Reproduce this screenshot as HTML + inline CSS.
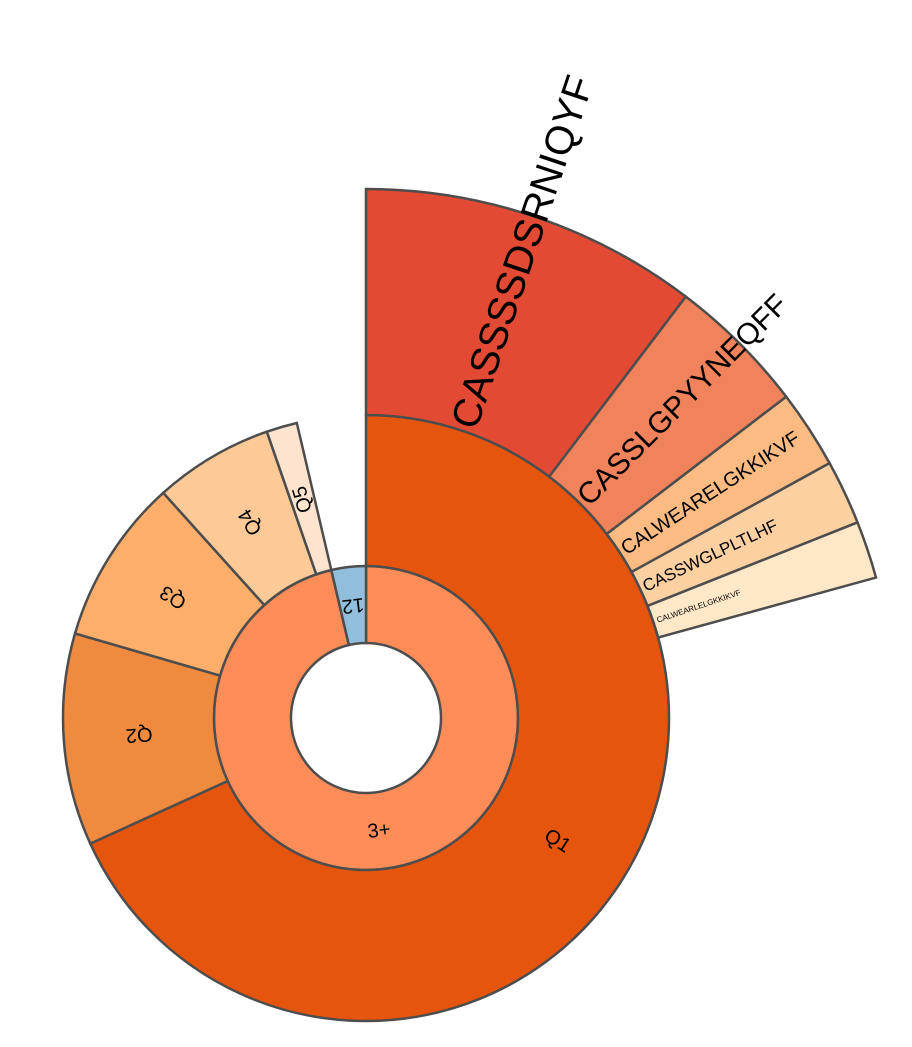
<!DOCTYPE html>
<html><head><meta charset="utf-8"><style>
html,body{margin:0;padding:0;background:#fff;}
svg{display:block;font-family:"Liberation Sans",sans-serif;}
</style></head><body>
<svg id="chart" width="912" height="1047" viewBox="0 0 912 1047"></svg>
<script>
const ring1Names = ["3+", "12"];
const ring1Values = [346.8, 13.2];
const ring2Names = ["Q1", "Q2", "Q3", "Q4", "Q5"];
const ring2Values = [245.5, 40.7, 31.8, 22.9, 5.9];
const ring3Names = ["CASSSSDSRNIQYF", "CASSLGPYYNEQFF", "CALWEARELGKKIKVF", "CASSWGLPLTLHF", "CALWEARLELGKKIKVF"];
const ring3Values = [37.2, 15.4, 8.6, 7.1, 6.3];

const ring1Colors = ["#fc8d59", "#91bfdb"];
const ring2Colors = ["#e6550d", "#f08a3e", "#fdae6b", "#fdc997", "#fee3cf"];
const ring3Colors = ["#e34a33", "#f0825c", "#fdbb84", "#fdd0a2", "#fee8c8"];
const ring3Font = [40, 30, 20, 17, 8];

const svg = document.getElementById('chart');
const NS = 'http://www.w3.org/2000/svg';
const cx = 366, cy = 718;
const radii = [75, 152, 303, 529];
const total = ring1Values.reduce((a, b) => a + b, 0);
const ang = v => v / total * 360;

function pt(r, a) {
  const t = a * Math.PI / 180;
  return [cx + r * Math.sin(t), cy - r * Math.cos(t)];
}
function arcPath(a0, a1, r0, r1) {
  const large = (a1 - a0) > 180 ? 1 : 0;
  const p0 = pt(r1, a0), p1 = pt(r1, a1), p2 = pt(r0, a1), p3 = pt(r0, a0);
  return `M${p0[0]},${p0[1]}A${r1},${r1} 0 ${large} 1 ${p1[0]},${p1[1]}L${p2[0]},${p2[1]}A${r0},${r0} 0 ${large} 0 ${p3[0]},${p3[1]}Z`;
}
function drawRing(names, values, colors, start, r0, r1, ring) {
  let a = start;
  const out = [];
  names.forEach((n, i) => {
    const a1 = a + ang(values[i]);
    const p = document.createElementNS(NS, 'path');
    p.setAttribute('d', arcPath(a, a1, r0, r1));
    p.setAttribute('fill', colors[i]);
    p.setAttribute('stroke', '#4d4d4d');
    p.setAttribute('stroke-width', '2.5');
    
    
    svg.appendChild(p);
    out.push([a, a1]);
    a = a1;
  });
  return out;
}
function label(text, x, y, rot, size, anchor) {
  const t = document.createElementNS(NS, 'text');
  t.setAttribute('x', x); t.setAttribute('y', y);
  t.setAttribute('transform', `rotate(${rot} ${x} ${y})`);
  t.setAttribute('font-size', size);
  t.setAttribute('text-anchor', anchor);
  t.setAttribute('dominant-baseline', 'central');
  t.setAttribute('fill', '#000');
  
  
  t.textContent = text;
  svg.appendChild(t);
}
const a1s = drawRing(ring1Names, ring1Values, ring1Colors, 0, radii[0], radii[1], 1);
const a2s = drawRing(ring2Names, ring2Values, ring2Colors, a1s[0][0], radii[1], radii[2], 2);
const a3s = drawRing(ring3Names, ring3Values, ring3Colors, a2s[0][0], radii[2], radii[3], 3);

a1s.forEach((s, i) => {
  const m = (s[0] + s[1]) / 2, p = pt((radii[0] + radii[1]) / 2, m);
  label(ring1Names[i], p[0], p[1], m - 180, 20, 'middle');
});
a2s.forEach((s, i) => {
  const m = (s[0] + s[1]) / 2, p = pt((radii[1] + radii[2]) / 2, m);
  label(ring2Names[i], p[0], p[1], m - 90, 20, 'middle');
});
a3s.forEach((s, i) => {
  const m = (s[0] + s[1]) / 2, p = pt(radii[2] + 4, m);
  label(ring3Names[i], p[0], p[1], m - 90, ring3Font[i], 'start');
});
</script>
</body></html>
